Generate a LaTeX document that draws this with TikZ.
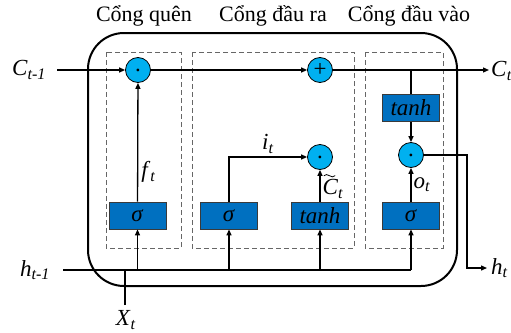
\documentclass[tikz,border=0pt]{standalone}
\usepackage{fontspec}
\setmainfont{Liberation Serif}
\usetikzlibrary{arrows.meta}
\definecolor{circfill}{HTML}{00B0F0}
\definecolor{boxfill}{HTML}{0070C0}
\definecolor{boxline}{HTML}{3A3A3A}
\begin{document}
\begin{tikzpicture}[x=1pt,y=-1pt,
  font=\fontsize{23}{27}\selectfont,
  op/.style={circle,draw=black,line width=0.8pt,fill=circfill,minimum size=25pt,inner sep=0pt},
  gatebox/.style={rectangle,draw=boxline,line width=0.8pt,fill=boxfill,minimum width=57pt,minimum height=27pt,inner sep=0pt},
  conn/.style={line width=1.3pt},
  arr/.style={conn,-{Triangle[length=6pt,width=5pt]}},
  region/.style={draw=gray!80!black,dashed,dash pattern=on 5pt off 3pt,line width=0.8pt},
  lbl/.style={inner sep=0pt},
  title/.style={inner sep=0pt,font=\fontsize{22}{26}\selectfont},
  tildemark/.style={line width=0.8pt,line cap=round}
]
\useasboundingbox (0,0) rectangle (511,332);
% outer cell
\draw[line width=2pt,rounded corners=36pt] (88,33) rectangle (457,286);
% dashed regions
\draw[region] (106,52) rectangle (181,248);
\draw[region] (192,52) rectangle (354,248);
\draw[region] (365,52) rectangle (443,248);
% titles
\node[title] (t1) at (144,16) {Cổng quên};
\node[title] (t2) at (273,16) {Cổng đầu ra};
\node[title] (t3) at (409,16) {Cổng đầu vào};
% operators
\node[op] (c1) at (138,70) {\raisebox{-4pt}{.}};
\node[op] (cp) at (320,70) {+};
\node[op] (c2) at (320,157) {\raisebox{-4pt}{.}};
\node[op] (c3) at (411,155) {\raisebox{-4pt}{.}};
% boxes
\node[gatebox] (th1) at (411,108) {\textit{tanh}};
\node[gatebox] (s1) at (137.5,215.5) {\textit{σ}};
\node[gatebox] (s2) at (229,215.5) {\textit{σ}};
\node[gatebox] (th2) at (320,215.5) {\textit{tanh}};
\node[gatebox] (s4) at (411,215.5) {\textit{σ}};
% labels
\node[lbl] (lc) at (29,70) {\textit{C}\textsubscript{\textit{t-1}}};
\node[lbl,anchor=west] (lct) at (491,71) {\textit{C}\textsubscript{\textit{t}}};
\node[lbl] (lh) at (35,270) {\textit{h}\textsubscript{\textit{t-1}}};
\node[lbl,anchor=west] (lht) at (491,268) {\textit{h}\textsubscript{\textit{t}}};
\node[lbl] (lx) at (126,320) {\textit{X}\textsubscript{\textit{t}}};
% coordinates
\coordinate (cin) at (57,70);
\coordinate (cout) at (489,70);
\coordinate (tap) at (411,70);
\coordinate (hin) at (63,270);
\coordinate (hend) at (411,270);
\coordinate (xin) at (125,305);
\coordinate (xj) at (125,270);
\coordinate (hcorner) at (467,155);
\coordinate (hout) at (487,268);
% cell state line
\draw[arr] (cin) -- (c1);
\draw[arr] (c1) -- (cp);
\draw[arr] (cp) -- (cout);
\draw[conn] (tap) -- (th1.north);
\draw[arr] (th1) -- (c3);
% gate connections
\draw[arr] (s1) -- node[lbl,right=3pt,pos=0.25] (lf) {\textit{f}\textsubscript{\textit{t}}} (c1);
\draw[arr] (s2.north) |- node[lbl,above=3pt,pos=0.75] (li) {\textit{i}\textsubscript{\textit{t}}} (c2.west);
\draw[arr] (th2) -- node[lbl,right=2pt,pos=0.4] (lcc) {\textit{C}\textsubscript{\textit{t}}} (c2);
\draw[tildemark] (lcc.north west) ++(2,-3) .. controls +(3,-4) and +(-3,4) .. ++(11,0);
\draw[arr] (s4) -- node[lbl,right=2pt,pos=0.5] (lo) {\textit{o}\textsubscript{\textit{t}}} (c3);
% hidden input
\draw[conn] (hin) -- (hend);
\draw[conn] (xin) -- (xj);
\draw[arr] (s1.south |- hin) -- (s1.south);
\draw[arr] (s2.south |- hin) -- (s2.south);
\draw[arr] (th2.south |- hin) -- (th2.south);
\draw[arr] (s4.south |- hin) -- (s4.south);
% output
\draw[arr] (c3.east) -- (hcorner) |- (hout);
\end{tikzpicture}
\end{document}
